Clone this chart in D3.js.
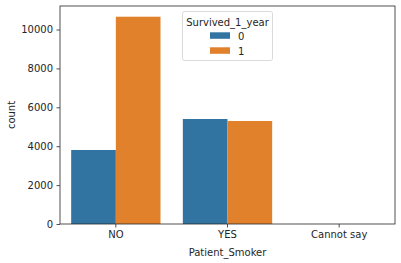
<!DOCTYPE html>
<html><head><meta charset="utf-8">
<script src="https://cdn.jsdelivr.net/npm/d3@7"></script>
<style>body{margin:0;background:#fff}svg{display:block;font-family:"DejaVu Sans",sans-serif}</style>
</head><body>
<script>
const categories = ["NO", "YES", "Cannot say"];
const hues = ["0", "1"];
const survived0 = [3805, 5398, 2];
const survived1 = [10658, 5296, 1];
const yTicks = [0, 2000, 4000, 6000, 8000, 10000];
const colors = ["#3274a1", "#e1812c"];

const W = 401, H = 263;
const m = {left: 60, right: 6, top: 6, bottom: 39};
const svg = d3.select("body").append("svg").attr("width", W).attr("height", H);

const x = d3.scaleBand().domain(categories).range([m.left, W - m.right]).paddingInner(0.2).paddingOuter(0.1);
const xh = d3.scaleBand().domain(hues).range([0, x.bandwidth()]);
const y = d3.scaleLinear().domain([0, 11208]).range([H - m.bottom, m.top]);

const series = [survived0, survived1];
categories.forEach((c, i) => {
  hues.forEach((h, j) => {
    svg.append("rect")
      .attr("x", x(c) + xh(h))
      .attr("width", xh.bandwidth())
      .attr("y", y(series[j][i]))
      .attr("height", y(0) - y(series[j][i]))
      .attr("fill", colors[j]);
  });
});

const xAxis = svg.append("g").attr("transform", `translate(0,${H - m.bottom})`)
  .call(d3.axisBottom(x).tickSize(3.5).tickPadding(3.5));
const yAxis = svg.append("g").attr("transform", `translate(${m.left},0)`)
  .call(d3.axisLeft(y).tickValues(yTicks).tickFormat(d3.format("d")).tickSize(3.5).tickPadding(3.5));
[xAxis, yAxis].forEach(g => {
  g.select(".domain").remove();
  g.selectAll("text").attr("font-size", 10).attr("fill", "#262626").style("font-family", "DejaVu Sans");
  g.selectAll("line").attr("stroke", "#262626").attr("stroke-width", 0.8);
});

// frame
svg.append("rect").attr("x", m.left).attr("y", m.top)
  .attr("width", W - m.right - m.left).attr("height", H - m.bottom - m.top)
  .attr("fill", "none").attr("stroke", "#262626").attr("stroke-width", 0.8);

svg.append("text").attr("x", (m.left + W - m.right) / 2).attr("y", 256)
  .attr("text-anchor", "middle").attr("font-size", 10).attr("fill", "#262626").text("Patient_Smoker");
svg.append("text").attr("transform", `translate(15,${(m.top + H - m.bottom) / 2}) rotate(-90)`)
  .attr("text-anchor", "middle").attr("font-size", 10).attr("fill", "#262626").text("count");

// legend
const lg = svg.append("g");
lg.append("rect").attr("x", 182.5).attr("y", 11.5).attr("width", 90).attr("height", 49).attr("rx", 2)
  .attr("fill", "#fff").attr("fill-opacity", 0.8).attr("stroke", "#d0d0d0").attr("stroke-width", 0.8);
lg.append("text").attr("x", 227.5).attr("y", 25.5).attr("text-anchor", "middle")
  .attr("font-size", 10).attr("fill", "#262626").text("Survived_1_year");
hues.forEach((h, j) => {
  lg.append("rect").attr("x", 210).attr("y", 32.3 + j * 15).attr("width", 20).attr("height", 6.5).attr("fill", colors[j]);
  lg.append("text").attr("x", 238).attr("y", 39.5 + j * 15).attr("font-size", 10).attr("fill", "#262626").text(h);
});
</script>
</body></html>
